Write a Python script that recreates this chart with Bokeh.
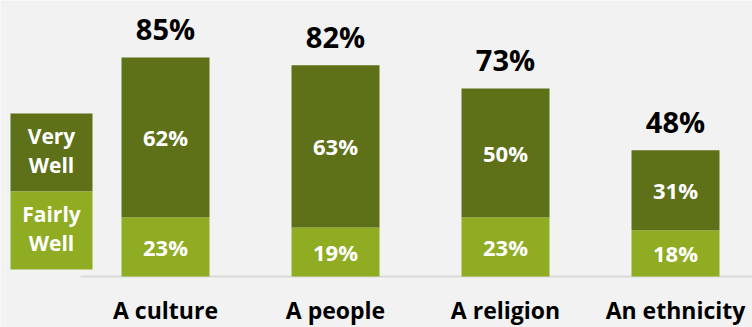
from bokeh.plotting import figure
from bokeh.models import Range1d, ColumnDataSource
from bokeh.core.properties import value
from bokeh.embed import file_html
from bokeh.resources import INLINE

categories = ["A culture", "A people", "A religion", "An ethnicity"]
fairly_well = [23, 19, 23, 18]
very_well = [62, 63, 50, 31]
totals = [85, 82, 73, 48]

DARK = "#5e7119"
LIGHT = "#8fac22"
BG = "#f2f2f2"
FONT = value("Open Sans")

xs = list(range(len(categories)))
top_top = [f + v for f, v in zip(fairly_well, very_well)]

src = ColumnDataSource(dict(
    x=xs,
    cat=categories,
    f=fairly_well,
    v=very_well,
    tot=totals,
    f_mid=[f / 2 for f in fairly_well],
    v_mid=[f + v / 2 for f, v in zip(fairly_well, very_well)],
    top=top_top,
    f_lbl=[f"{f}%" for f in fairly_well],
    v_lbl=[f"{v}%" for v in very_well],
    t_lbl=[f"{t}%" for t in totals],
    zero=[0] * len(xs),
))

W, H = 752, 327
spacing_px = 170.0
c0_px = 165.0
base_px = 276.0
ppu = 2.576

p = figure(width=W, height=H, output_backend="svg", toolbar_location=None,
           min_border=0, min_border_left=0, min_border_right=0,
           min_border_top=0, min_border_bottom=0,
           x_range=Range1d(-c0_px / spacing_px, (W - c0_px) / spacing_px),
           y_range=Range1d(-(H - base_px) / ppu, base_px / ppu))
p.background_fill_color = BG
p.border_fill_color = BG
p.outline_line_color = None
p.xaxis.visible = False
p.yaxis.visible = False
p.xgrid.visible = False
p.ygrid.visible = False

bw = 88 / spacing_px

# baseline
p.segment(x0=(80 - c0_px) / spacing_px, x1=(W - c0_px) / spacing_px, y0=0, y1=0,
          line_color="#d9d9d9", line_width=2)

p.vbar(x="x", width=bw, bottom=0, top="f", source=src, fill_color=LIGHT, line_color=None)
p.vbar(x="x", width=bw, bottom="f", top="top", source=src, fill_color=DARK, line_color=None)

p.text(x="x", y="f_mid", text="f_lbl", source=src, text_align="center", text_baseline="middle",
       text_color="white", text_font=FONT, text_font_style="bold", text_font_size="22px")
p.text(x="x", y="v_mid", text="v_lbl", source=src, text_align="center", text_baseline="middle",
       text_color="white", text_font=FONT, text_font_style="bold", text_font_size="22px")
p.text(x="x", y="top", text="t_lbl", source=src, text_align="center", text_baseline="middle",
       y_offset=-29, text_color="black", text_font=FONT, text_font_style="bold", text_font_size="29px")
p.text(x="x", y="zero", text="cat", source=src, text_align="center", text_baseline="middle",
       y_offset=33, text_color="black", text_font=FONT, text_font_style="bold", text_font_size="23px")

# legend boxes
lx0 = (10 - c0_px) / spacing_px
lx1 = (92 - c0_px) / spacing_px
lxc = (lx0 + lx1) / 2
def py(px):
    return (base_px - px) / ppu
p.quad(left=lx0, right=lx1, bottom=py(191), top=py(113), fill_color=DARK, line_color=None)
p.quad(left=lx0, right=lx1, bottom=py(269), top=py(191), fill_color=LIGHT, line_color=None)
leg = ColumnDataSource(dict(x=[lxc] * 4, y=[py(135), py(164), py(213), py(242)],
                            t=["Very", "Well", "Fairly", "Well"]))
p.text(x="x", y="y", text="t", source=leg, text_align="center", text_baseline="middle",
       text_color="white", text_font=FONT, text_font_style="bold", text_font_size="21px")

open("out.html", "w").write(file_html(p, INLINE))
